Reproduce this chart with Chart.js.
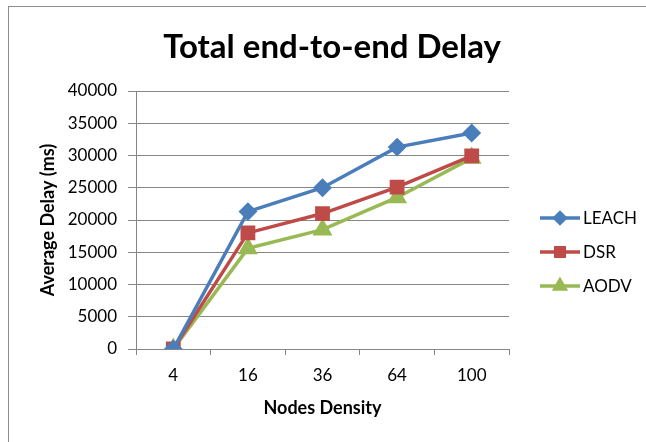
<!DOCTYPE html>
<html>
<head>
<meta charset="utf-8">
<script src="https://cdn.jsdelivr.net/npm/chart.js@4.4.0/dist/chart.umd.min.js"></script>
<style>
  html, body { margin: 0; padding: 0; background: #fff; overflow: hidden; }
  #wrap { position: relative; width: 646px; height: 442px; }
  #frame { position: absolute; left: 8px; top: 6px; width: 700px; height: 500px; border: 1px solid #8c8c8c; }
  canvas { position: absolute; left: 0; top: 0; }
</style>
</head>
<body>
<div id="wrap">
  <div id="frame"></div>
  <canvas id="delayChart" width="646" height="442"></canvas>
</div>
<script>
const chartTitle = 'Total end-to-end Delay';
const nodes = ['4', '16', '36', '64', '100'];
const leach = [0, 21300, 25000, 31300, 33500];
const dsr = [0, 18000, 21000, 25100, 29950];
const aodv = [0, 15600, 18500, 23500, 29600];
const yTicks = [0, 5000, 10000, 15000, 20000, 25000, 30000, 35000, 40000];

const FONT = "Lato, 'Open Sans', sans-serif";

// title is centred on the whole picture, not on the plot box
const topTitle = {
    id: 'topTitle',
    afterDraw(chart) {
        const ctx = chart.ctx;
        ctx.save();
        ctx.fillStyle = '#000';
        ctx.font = 'bold 33px ' + FONT;
        ctx.textAlign = 'center';
        ctx.textBaseline = 'middle';
        ctx.fillText(chartTitle, 332, 47);
        ctx.restore();
    }
};

// legend with line + marker like the spreadsheet original
const sideLegend = {
    id: 'sideLegend',
    afterDraw(chart) {
        const ctx = chart.ctx;
        const x0 = 540, x1 = 580, yStart = 218, gap = 34;
        chart.data.datasets.forEach((ds, i) => {
            const y = yStart + i * gap;
            ctx.save();
            ctx.strokeStyle = ds.borderColor;
            ctx.fillStyle = ds.backgroundColor;
            ctx.lineWidth = 3.5;
            ctx.beginPath();
            ctx.moveTo(x0, y);
            ctx.lineTo(x1, y);
            ctx.stroke();
            Chart.helpers.drawPoint(ctx, {
                pointStyle: ds.pointStyle,
                radius: ds.pointRadius * 0.75,
                rotation: 0,
                borderWidth: 1
            }, (x0 + x1) / 2, y);
            ctx.fillStyle = '#000';
            ctx.font = '17px ' + FONT;
            ctx.textBaseline = 'middle';
            ctx.textAlign = 'left';
            ctx.fillText(ds.label, x1 + 3, y + 1);
            ctx.restore();
        });
    }
};

function series(label, data, color, style, radius) {
    return {
        label: label,
        data: data,
        borderColor: color,
        backgroundColor: color,
        pointBackgroundColor: color,
        pointBorderColor: color,
        pointStyle: style,
        pointRadius: radius,
        pointHoverRadius: radius,
        borderWidth: 3.5,
        tension: 0
    };
}

new Chart(document.getElementById('delayChart'), {
    type: 'line',
    data: {
        labels: nodes,
        datasets: [
            series('LEACH', leach, '#4A7EBB', 'rectRot', 7),
            series('DSR', dsr, '#BE4B48', 'rect', 8),
            series('AODV', aodv, '#98B954', 'triangle', 8)
        ]
    },
    options: {
        responsive: false,
        animation: false,
        layout: { padding: { left: 34, right: 137, top: 91, bottom: 20 } },
        plugins: {
            legend: { display: false },
            tooltip: { enabled: false },
            title: { display: false }
        },
        scales: {
            x: {
                offset: true,
                grid: { offset: true, drawOnChartArea: false, drawTicks: true, tickLength: 6, color: '#868686' },
                border: { color: '#868686', width: 1 },
                ticks: { color: '#000', padding: 10, font: { family: FONT, size: 17 } },
                title: {
                    display: true,
                    text: 'Nodes Density',
                    color: '#000',
                    font: { family: FONT, size: 18, weight: 'bold' },
                    padding: { top: 4, bottom: 3 }
                },
                afterFit: s => { s.height = 73; }
            },
            y: {
                min: 0,
                max: 40000,
                afterBuildTicks: s => { s.ticks = yTicks.map(v => ({ value: v })); },
                grid: { color: '#868686', tickLength: 8, drawTicks: true },
                border: { color: '#868686', width: 1 },
                ticks: {
                    color: '#000',
                    padding: 11,
                    font: { family: FONT, size: 17 },
                    callback: v => String(v)
                },
                title: {
                    display: true,
                    text: 'Average Delay (ms)',
                    color: '#000',
                    font: { family: FONT, size: 18, weight: 'bold' },
                    padding: { top: 3, bottom: 4 }
                },
                afterFit: s => { s.width = 102; }
            }
        }
    },
    plugins: [topTitle, sideLegend]
});
</script>
</body>
</html>
